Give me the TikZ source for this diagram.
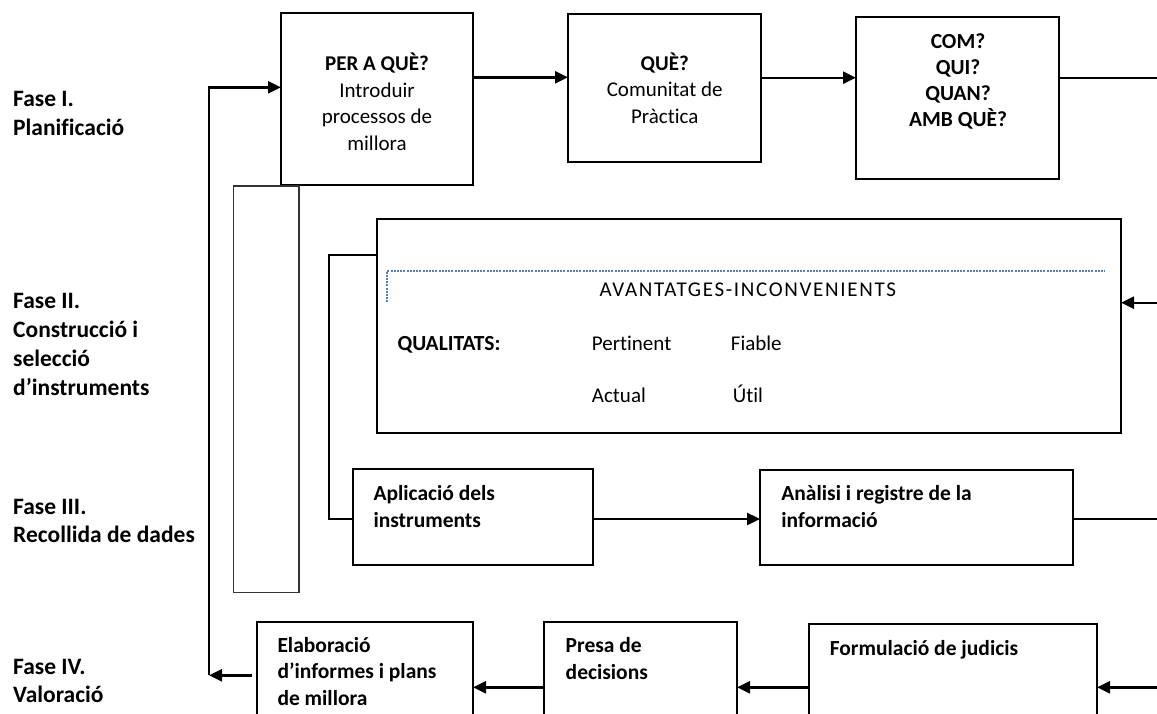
\documentclass[tikz,border=0pt]{standalone}
\usepackage{fontspec}
\setmainfont{Carlito}[Ligatures=NoCommon]
\usetikzlibrary{arrows.meta}
\definecolor{dotblue}{RGB}{79,129,189}
\begin{document}
\begin{tikzpicture}[x=1pt,y=-1pt,
  box/.style={draw, line width=2pt, rectangle, inner sep=0pt, outer sep=0pt, anchor=north west},
  thinbox/.style={box, line width=1.8pt, draw=black!80},
  conn/.style={line width=2.4pt},
  arr/.style={conn, -{Triangle[length=13pt,width=12pt]}},
  lbl/.style={font=\fontsize{23.5}{28.7}\selectfont\bfseries, anchor=base west, align=left, inner sep=0pt},
  btxt/.style={font=\fontsize{21}{26.5}\selectfont, anchor=base, align=center, inner sep=0pt},
  bl/.style={font=\fontsize{21.5}{27}\selectfont\bfseries, anchor=base west, align=left, inner sep=0pt},
  rl/.style={font=\fontsize{21}{24}\selectfont, anchor=base west, inner sep=0pt}]
\useasboundingbox (0,0) rectangle (1157,713);
\clip (0,0) rectangle (1157,713);
\fill[white] (0,0) rectangle (1157,713);

% phase labels (anchored at the baseline of their last line)
\node[lbl] (f1) at (13,135) {Fase I.\\Planificació};
\node[lbl] (f2) at (13,395) {Fase II.\\Construcció i\\selecció\\d’instruments};
\node[lbl] (f3) at (13,542.7) {Fase III.\\Recollida de dades};
\node[lbl] (f4) at (13,702.7) {Fase IV.\\Valoració};

% boxes
\node[box, minimum width=192pt, minimum height=172pt] (b1) at (281,13) {};
\node[box, minimum width=193pt, minimum height=148pt] (b2) at (568,14) {};
\node[box, minimum width=203pt, minimum height=162pt] (b3) at (856,17) {};
\node[thinbox, minimum width=65.5pt, minimum height=406.5pt] (tall) at (233.5,186) {};
\node[box, minimum width=744pt, minimum height=214pt] (big) at (377,218.5) {};
\node[box, minimum width=240pt, minimum height=95.5pt] (apl) at (353,469) {};
\node[box, minimum width=313pt, minimum height=95pt] (ana) at (760,470) {};
\node[box, minimum width=216pt, minimum height=130pt] (ela) at (257,622) {};
\node[box, minimum width=193pt, minimum height=130pt] (pre) at (544,622) {};
\node[box, minimum width=288pt, minimum height=130pt] (for) at (809,624) {};

% box texts
\node[btxt] (t1) at (377,150) {\textbf{PER A QUÈ?}\\Introduir\\processos de\\millora};
\node[btxt] (t2) at (664.7,123.3) {\textbf{QUÈ?}\\Comunitat de\\Pràctica};
\node[btxt, font=\fontsize{21.5}{26.1}\selectfont\bfseries] (t3) at (958,126.7) {COM?\\QUI?\\QUAN?\\AMB QUÈ?};
\node[rl, font=\fontsize{21}{24}\selectfont\addfontfeature{LetterSpace=8}] (av) at (599.3,296.7) {AVANTATGES-INCONVENIENTS};
\node[bl] (qu) at (397.3,350) {QUALITATS:};
\node[rl] (pe) at (591.7,350) {Pertinent};
\node[rl] (fi) at (730.7,350) {Fiable};
\node[rl] (ac) at (591.7,402.3) {Actual};
\node[rl] (ut) at (732.7,402.3) {Útil};
\node[bl] (ta) at (373.3,527.3) {Aplicació dels\\instruments};
\node[bl] (tn) at (781.2,527.3) {Anàlisi i registre de la\\informació};
\node[bl, font=\fontsize{21.5}{26.4}\selectfont\bfseries] (te) at (277.3,705) {Elaboració\\d’informes i plans\\de millora};
\node[bl] (tp) at (565.5,679.3) {Presa de\\decisions};
\node[bl] (tf) at (829.6,655) {Formulació de judicis};

% dotted line inside big box
\draw[dotblue, line width=2pt, dash pattern=on 2pt off 1.2pt]
  ([xshift=10pt,yshift=-83.8pt]big.north west) -- ([xshift=10pt,yshift=-52.2pt]big.north west)
  -- ([xshift=-16pt,yshift=-52.2pt]big.north east);

% connectors
\coordinate (p1) at ([yshift=-64.3pt]b1.north east);
\draw[arr] (p1) -- (p1 -| b2.west);
\coordinate (p2) at ([yshift=-63.7pt]b2.north east);
\draw[arr] (p2) -- (p2 -| b3.west);
\coordinate (e1) at (1157,78);
\draw[conn, line width=2pt] (e1 -| b3.east) -- (e1);
\coordinate (e2) at (1157,302.7);
\draw[arr] (e2) -- (e2 -| big.east);
\coordinate (p3) at ([yshift=-36.5pt]big.north west);
\coordinate (p4) at ([yshift=-50pt]apl.north west);
\draw[conn, line width=2pt] (p3) -- ++(-48.3,0) |- (p4);
\draw[arr] (p4 -| apl.east) -- (p4 -| ana.west);
\coordinate (e3) at (1157,519);
\draw[conn, line width=2pt] (e3 -| ana.east) -- (e3);
\coordinate (e4) at (1157,687.3);
\draw[arr] (e4) -- (e4 -| for.east);
\draw[arr] (e4 -| for.west) -- (e4 -| pre.east);
\draw[arr] (e4 -| pre.west) -- (e4 -| ela.east);
\coordinate (q1) at ([xshift=-5pt,yshift=-53.3pt]ela.north west);
\coordinate (q2) at (209,675.3);
\draw[arr] (q1) -- (q2);
\draw[arr] (q2) |- ([yshift=-74.3pt]b1.north west);
\end{tikzpicture}
\end{document}
